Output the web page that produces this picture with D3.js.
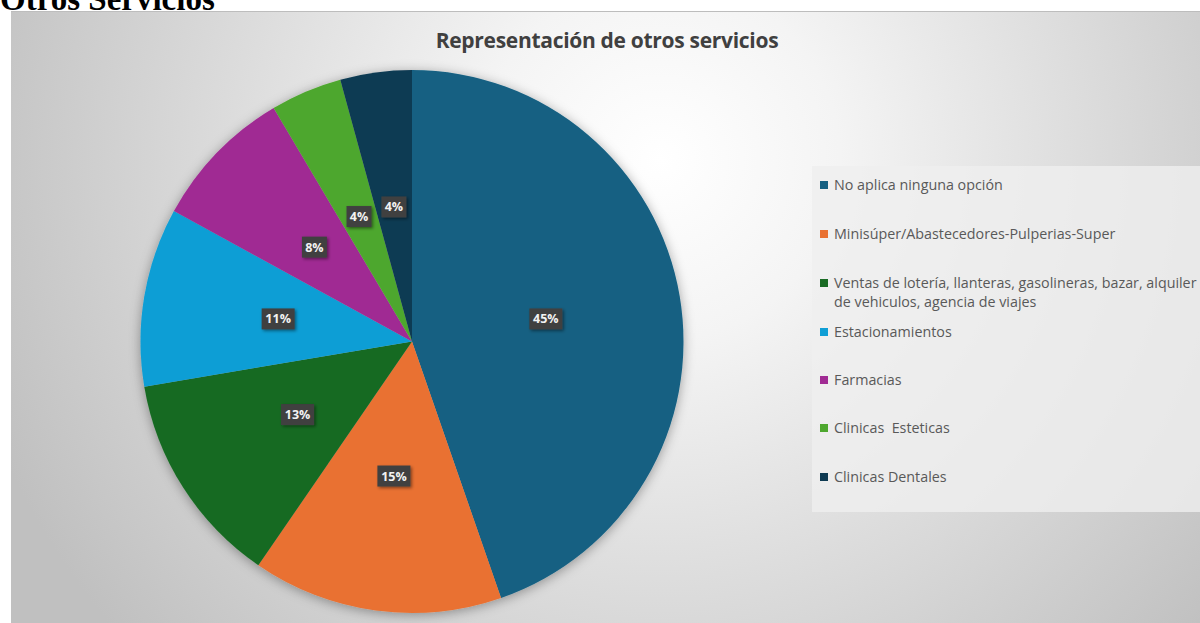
<!DOCTYPE html>
<html><head><meta charset="utf-8">
<script src="https://cdn.jsdelivr.net/npm/d3@7"></script>
<style>html,body{margin:0;padding:0;background:#fff;overflow:hidden}</style>
</head><body>
<svg id="c" width="1200" height="623"></svg>
<script>
const categories = ["No aplica ninguna opción","Minisúper/Abastecedores-Pulperias-Super","Ventas de lotería, llanteras, gasolineras, bazar, alquiler de vehiculos, agencia de viajes","Estacionamientos","Farmacias","Clinicas  Esteticas","Clinicas Dentales"];
const legendLines = [["No aplica ninguna opción"],["Minisúper/Abastecedores-Pulperias-Super"],["Ventas de lotería, llanteras, gasolineras, bazar, alquiler","de vehiculos, agencia de viajes"],["Estacionamientos"],["Farmacias"],["Clinicas  Esteticas"],["Clinicas Dentales"]];
const values = [21, 7, 6, 5, 4, 2, 2];
const labels = ["45%","15%","13%","11%","8%","4%","4%"];
const colors = ["#156082","#E97132","#196B24","#0F9ED5","#A02B93","#4EA72E","#0E3A52"];

const svg = d3.select("#c");
const defs = svg.append("defs");
const rg = defs.append("radialGradient").attr("id","bg").attr("gradientUnits","userSpaceOnUse")
  .attr("cx",660).attr("cy",160).attr("r",720);
rg.append("stop").attr("offset","0").attr("stop-color","#ffffff");
rg.append("stop").attr("offset","0.25").attr("stop-color","#f4f4f4");
rg.append("stop").attr("offset","1").attr("stop-color","#c0c0c0");
const f = defs.append("filter").attr("id","sh").attr("x","-20%").attr("y","-20%").attr("width","140%").attr("height","140%");
f.append("feDropShadow").attr("dx",0).attr("dy",2).attr("stdDeviation",6).attr("flood-color","#000").attr("flood-opacity",0.35);
const f2 = defs.append("filter").attr("id","lsh").attr("x","-30%").attr("y","-30%").attr("width","160%").attr("height","160%");
f2.append("feDropShadow").attr("dx",1.5).attr("dy",1.5).attr("stdDeviation",1.5).attr("flood-color","#000").attr("flood-opacity",0.45);

// page title (cut off at top, as in the reference)
svg.append("text").attr("x",0).attr("y",10).attr("font-family","Liberation Serif, Times New Roman, serif")
  .attr("font-weight","bold").attr("font-size",33).attr("fill","#000").text("Otros Servicios");

// chart area
svg.append("rect").attr("x",11).attr("y",11).attr("width",1189).attr("height",612).attr("fill","url(#bg)");
svg.append("line").attr("x1",11).attr("x2",1200).attr("y1",11.5).attr("y2",11.5).attr("stroke","#bdbdbd").attr("stroke-width",1);

svg.append("text").attr("x",607).attr("y",48).attr("text-anchor","middle")
  .attr("font-family","Open Sans, Noto Sans, sans-serif").attr("font-weight","bold").attr("font-size",21)
  .attr("fill","#404040").attr("letter-spacing",-0.3).text("Representación de otros servicios");

// legend box
svg.append("rect").attr("x",812).attr("y",166).attr("width",388).attr("height",346).attr("fill","#efefef").attr("opacity",0.8);

const cx = 412, cy = 341.5, r = 271.5;
const pie = d3.pie().sort(null).value(d=>d);
const arcs = pie(values);
const arc = d3.arc().innerRadius(0).outerRadius(r);
const g = svg.append("g").attr("transform",`translate(${cx},${cy})`);
g.append("g").attr("filter","url(#sh)").selectAll("path").data(arcs).join("path")
  .attr("d",arc).attr("fill",(d,i)=>colors[i]);

const lg = g.selectAll("g.lbl").data(arcs).join("g").attr("class","lbl")
  .attr("transform",d=>{const c=arc.centroid(d);return `translate(${c[0]},${c[1]})`;});
lg.each(function(d,i){
  const el = d3.select(this);
  const w = labels[i].length===3 ? 33 : 25;
  el.append("rect").attr("x",-w/2).attr("y",-10.5).attr("width",w).attr("height",21).attr("fill","#404040").attr("filter","url(#lsh)");
  el.append("text").attr("text-anchor","middle").attr("dy","0.36em").attr("font-family","Open Sans, Noto Sans, sans-serif")
    .attr("font-weight","bold").attr("font-size",12.5).attr("fill","#f2f2f2").text(labels[i]);
});

const rowsY = [185, 234, 283, 332, 380, 428, 477];
const leg = svg.append("g");
legendLines.forEach((lines,i)=>{
  leg.append("rect").attr("x",820).attr("y",rowsY[i]-4).attr("width",8).attr("height",8).attr("fill",colors[i]);
  lines.forEach((t,j)=>{
    leg.append("text").attr("x",834).attr("y",rowsY[i]+j*19).attr("dy","0.35em")
      .attr("font-family","Open Sans, Noto Sans, sans-serif").attr("font-size",14.3).attr("fill","#595959")
      .style("white-space","pre").text(t);
  });
});
</script>
</body></html>
